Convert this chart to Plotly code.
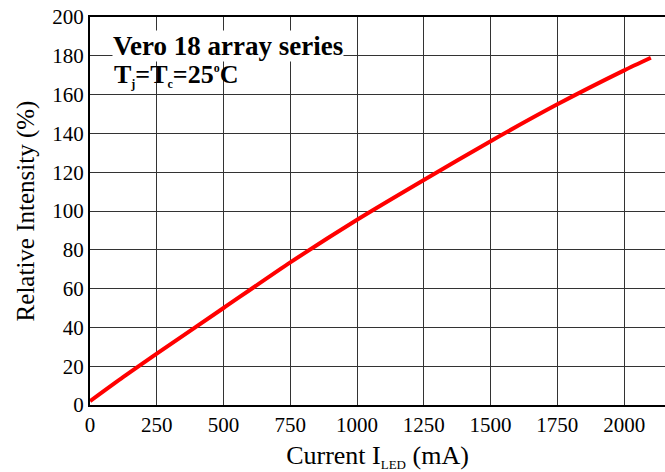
import plotly.graph_objects as go

current_ma = [0, 125, 250, 500, 750, 1000, 1250, 1500, 1750, 2000, 2100]
relative_intensity = [2, 14.5, 26.5, 50, 73.5, 95.5, 116, 136, 155, 172.5, 179]

x_ticks = [0, 250, 500, 750, 1000, 1250, 1500, 1750, 2000]
y_ticks = [0, 20, 40, 60, 80, 100, 120, 140, 160, 180, 200]

FONT = "Liberation Serif"

fig = go.Figure()
fig.add_trace(go.Scatter(
    x=current_ma, y=relative_intensity, mode="lines",
    line=dict(color="#ff0000", width=4, shape="spline", smoothing=0.6),
    showlegend=False, hoverinfo="skip"))

axis_common = dict(
    showgrid=True, gridcolor="#333333", gridwidth=1,
    showline=True, linecolor="black", linewidth=2, mirror=True,
    ticks="", zeroline=False,
    tickfont=dict(family=FONT, size=21, color="black"),
)

fig.update_xaxes(range=[0, 2153], tickvals=x_ticks,
                 ticktext=[str(v) for v in x_ticks],
                 title=dict(text="Current I<sub><span style='font-size:13px'>LED</span></sub> (mA)",
                            font=dict(family=FONT, size=26, color="black"),
                            standoff=16),
                 **axis_common)
fig.update_yaxes(range=[0, 200], tickvals=y_ticks,
                 ticktext=[str(v) for v in y_ticks],
                 title=dict(text="Relative Intensity (%)",
                            font=dict(family=FONT, size=25, color="black"),
                            standoff=11),
                 **axis_common)

fig.add_annotation(
    xref="paper", yref="paper", x=0.038, y=0.925, xanchor="left", yanchor="middle",
    text="<b>Vero 18 array series</b>", showarrow=False,
    font=dict(family=FONT, size=27, color="black"),
    bgcolor="white", borderpad=0)
fig.add_annotation(
    xref="paper", yref="paper", x=0.038, y=0.85, xanchor="left", yanchor="middle",
    text=("<b>T<sub><span style='font-size:12px'>j</span></sub>=T"
          "<sub><span style='font-size:12px'>c</span></sub>=25"
          "<sup><span style='font-size:12px'>o</span></sup>C</b>"),
    showarrow=False,
    font=dict(family=FONT, size=26, color="black"))

fig.update_layout(
    width=665, height=472,
    margin=dict(l=90, r=0, t=17, b=67, autoexpand=False),
    paper_bgcolor="white", plot_bgcolor="white",
)

fig.write_html("out.html")
